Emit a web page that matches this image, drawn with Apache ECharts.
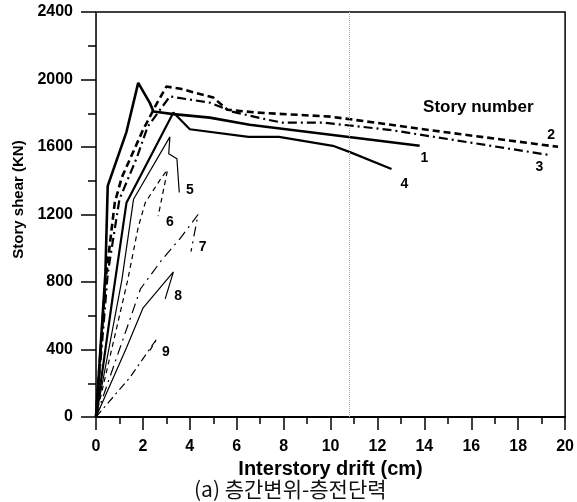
<!DOCTYPE html>
<html>
<head>
<meta charset="utf-8">
<script src="https://cdn.jsdelivr.net/npm/echarts@6/dist/echarts.min.js"></script>
<style>
  html, body { margin: 0; padding: 0; background: #fff; }
  #main { width: 577px; height: 502px; }
</style>
</head>
<body>
<div id="main"></div>
<script>
// story shear (kN) vs interstory drift (cm), one curve per story
const story1 = [[0, 0], [0.4, 850], [0.5, 1370], [1.3, 1690], [1.8, 1980], [2.3, 1860], [2.45, 1810], [3.3, 1795], [4.85, 1774], [6.55, 1732], [13.8, 1607]];
const story2 = [[0, 0], [0.4, 800], [0.8, 1270], [1.1, 1420], [2.0, 1700], [2.6, 1860], [3.0, 1958], [3.6, 1945], [5.0, 1893], [5.6, 1821], [6.85, 1804], [10.0, 1780], [15.1, 1684], [19.7, 1601]];
const story3 = [[0, 0], [0.5, 850], [1.0, 1290], [1.75, 1540], [2.2, 1720], [3.15, 1900], [4.0, 1881], [4.85, 1863], [5.8, 1810], [7.3, 1762], [7.96, 1744], [9.7, 1744], [12.5, 1702], [19.3, 1553]];
const story4 = [[0, 0], [0.7, 700], [1.3, 1270], [3.3, 1805], [4.0, 1705], [6.5, 1660], [7.8, 1660], [10.1, 1607], [10.8, 1571], [12.6, 1470]];
const story5 = [[0, 0], [1.1, 810], [1.6, 1290], [3.15, 1660], [3.1, 1560], [3.45, 1530], [3.55, 1330]];
const story6 = [[0, 0], [1.35, 810], [1.8, 1125], [2.1, 1270], [2.8, 1420], [3.05, 1464], [2.65, 1190]];
const story7 = [[0, 0], [1.9, 760], [2.8, 930], [3.6, 1060], [4.35, 1200], [4.05, 980]];
const story8 = [[0, 0], [1.3, 410], [2.0, 645], [3.3, 860], [2.95, 700]];
const story9 = [[0, 0], [1.45, 235], [2.6, 465], [2.3, 395]];

const labelNames = ['1', '2', '3', '4', '5', '6', '7', '8', '9'];
const labelX = [14.0, 19.4, 18.9, 13.15, 4.0, 3.15, 4.55, 3.5, 2.98];
const labelY = [1536, 1673, 1482, 1381, 1345, 1155, 1006, 714, 387];
const markDrift = 10.8;

const chart = echarts.init(document.getElementById('main'));

function curve(name, data, width, type) {
  return {
    name: name,
    type: 'line',
    data: data,
    symbol: 'none',
    lineStyle: { color: '#000', width: width, type: type },
    z: 3
  };
}

const series = [
  curve('1', story1, 2.6, 'solid'),
  curve('2', story2, 2.6, [7, 4]),
  curve('3', story3, 2.2, [9, 4, 2, 4]),
  curve('4', story4, 2.2, 'solid'),
  curve('5', story5, 1.2, 'solid'),
  curve('6', story6, 1.2, [5, 4]),
  curve('7', story7, 1.2, [10, 5, 2, 5]),
  curve('8', story8, 1.2, 'solid'),
  curve('9', story9, 1.2, [8, 4, 2, 4])
];

series[0].markLine = {
  silent: true,
  symbol: 'none',
  label: { show: false },
  lineStyle: { color: '#aaa', type: 'dotted', width: 1 },
  data: [{ xAxis: markDrift }]
};

const boldText = {
  show: true,
  position: 'inside',
  color: '#000',
  opacity: 1,
  fontFamily: 'Liberation Sans, Arial',
  fontWeight: 'bold'
};

series.push({
  type: 'scatter',
  symbolSize: 1,
  silent: true,
  itemStyle: { opacity: 0 },
  data: labelNames.map((n, i) => ({ name: n, value: [labelX[i], labelY[i]] })),
  label: Object.assign({}, boldText, { formatter: p => p.name, fontSize: 14 }),
  z: 4
});

series.push({
  type: 'scatter',
  symbolSize: 1,
  silent: true,
  itemStyle: { opacity: 0 },
  data: [{ name: 'Story number', value: [16.3, 1833] }],
  label: Object.assign({}, boldText, { formatter: 'Story number', fontSize: 17 }),
  z: 4
});

chart.setOption({
  animation: false,
  backgroundColor: '#fff',
  title: {
    text: '(a) 층간변위-층전단력',
    left: 189,
    top: 473,
    textStyle: {
      fontFamily: 'Noto Sans CJK KR',
      fontWeight: 'normal',
      fontSize: 21,
      lineHeight: 22,
      color: '#111'
    }
  },
  grid: {
    left: 96,
    right: 11,
    top: 12,
    bottom: 85,
    show: true,
    borderColor: '#000',
    borderWidth: 1.5
  },
  xAxis: {
    type: 'value',
    min: 0,
    max: 20,
    interval: 2,
    name: 'Interstory drift (cm)',
    nameLocation: 'middle',
    nameGap: 38,
    nameTextStyle: {
      fontFamily: 'Liberation Sans, Arial',
      fontWeight: 'bold',
      fontSize: 20,
      color: '#000'
    },
    axisLine: { lineStyle: { color: '#000', width: 2 } },
    axisTick: { length: 13, lineStyle: { color: '#000', width: 1.5 } },
    minorTick: { show: true, splitNumber: 2, length: 7, lineStyle: { color: '#000', width: 1.5 } },
    splitLine: { show: false },
    axisLabel: {
      margin: 22,
      color: '#000',
      fontFamily: 'Liberation Sans, Arial',
      fontWeight: 'bold',
      fontSize: 16
    }
  },
  yAxis: {
    type: 'value',
    min: 0,
    max: 2400,
    interval: 400,
    name: 'Story shear (KN)',
    nameLocation: 'middle',
    nameGap: 70,
    nameTextStyle: {
      fontFamily: 'Liberation Sans, Arial',
      fontWeight: 'bold',
      fontSize: 15,
      color: '#000',
      padding: [0, 0, 0, 30]
    },
    axisLine: { show: true, lineStyle: { color: '#333', width: 1 } },
    axisTick: { show: true, length: 15, lineStyle: { color: '#000', width: 1.5 } },
    minorTick: { show: true, splitNumber: 2, length: 8, lineStyle: { color: '#000', width: 1.5 } },
    splitLine: { show: false },
    axisLabel: {
      margin: 23,
      formatter: v => String(v),
      color: '#000',
      fontFamily: 'Liberation Sans, Arial',
      fontWeight: 'bold',
      fontSize: 16
    }
  },
  series: series
});
</script>
</body>
</html>
